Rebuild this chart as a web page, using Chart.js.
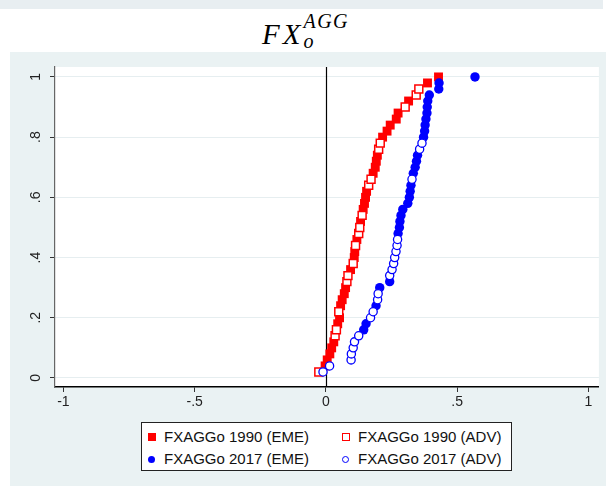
<!DOCTYPE html>
<html>
<head>
<meta charset="utf-8">
<script src="https://cdn.jsdelivr.net/npm/chart.js@4.4.0/dist/chart.umd.min.js"></script>
<style>
  body { margin: 0; width: 606px; height: 486px; background: #fff; position: relative; overflow: hidden; }
  #band { position: absolute; left: 0; top: 0; width: 603px; height: 9px; background: #e8eef1; }
  #title { position: absolute; left: 262px; top: 15px; font-family: "Liberation Serif", serif; font-style: italic; font-size: 29px; color: #000; letter-spacing: 3px; white-space: nowrap; }
  #title .scr { position: relative; display: inline-block; width: 56px; height: 29px; letter-spacing: 1.5px; }
  #title .sup { position: absolute; left: 0; top: -5px; font-size: 20px; }
  #title .sub { position: absolute; left: 0; top: 15px; font-size: 20px; }
  #wrap { position: absolute; left: 10px; top: 52px; width: 596px; height: 434px; background: #eaf2f3; }
  #legend { position: absolute; left: 141px; top: 422px; width: 371px; height: 49px; background: #fff; border: 1px solid #222; box-sizing: border-box; font-family: "Liberation Sans", Arial, sans-serif; font-size: 15px; color: #111; }
  .item { position: absolute; white-space: nowrap; line-height: 18px; }
  .mk { position: absolute; top: 5px; }
</style>
</head>
<body>
<div id="band"></div>
<div id="title">FX<span class="scr"><span class="sup">AGG</span><span class="sub">o</span></span></div>
<div id="wrap"><canvas id="cdf" width="596" height="434"></canvas></div>
<div id="legend"></div>
<script>
// CDF points (x = FXAGGo, y = cumulative share)
const emeX1990 = [-0.003, 0.005, 0.015, 0.022, 0.03, 0.045, 0.052, 0.056, 0.062, 0.07, 0.075, 0.094, 0.108, 0.11, 0.118, 0.132, 0.142, 0.147, 0.151, 0.155, 0.18, 0.188, 0.192, 0.196, 0.216, 0.233, 0.245, 0.268, 0.275, 0.315, 0.387, 0.429];
const emeY1990 = [0.04, 0.06, 0.08, 0.10, 0.12, 0.18, 0.20, 0.24, 0.26, 0.28, 0.30, 0.36, 0.40, 0.42, 0.46, 0.52, 0.56, 0.58, 0.60, 0.62, 0.68, 0.70, 0.72, 0.74, 0.80, 0.82, 0.84, 0.86, 0.88, 0.92, 0.98, 1.00];

const advX1990 = [-0.027, 0.035, 0.04, 0.049, 0.08, 0.084, 0.104, 0.113, 0.125, 0.129, 0.138, 0.163, 0.172, 0.201, 0.207, 0.302, 0.344, 0.354];
const advY1990 = [0.02, 0.14, 0.16, 0.22, 0.32, 0.34, 0.38, 0.44, 0.48, 0.50, 0.54, 0.64, 0.66, 0.76, 0.78, 0.90, 0.94, 0.96];

const emeX2017 = [0.144, 0.153, 0.191, 0.205, 0.243, 0.275, 0.28, 0.282, 0.286, 0.293, 0.312, 0.318, 0.321, 0.324, 0.333, 0.34, 0.345, 0.349, 0.372, 0.376, 0.378, 0.381, 0.385, 0.386, 0.388, 0.394, 0.43, 0.431, 0.568];
const emeY2017 = [0.16, 0.18, 0.24, 0.30, 0.32, 0.48, 0.50, 0.52, 0.54, 0.56, 0.58, 0.60, 0.62, 0.64, 0.68, 0.70, 0.72, 0.74, 0.80, 0.82, 0.84, 0.86, 0.88, 0.90, 0.92, 0.94, 0.96, 0.98, 1.00];

const advX2017 = [-0.011, 0.014, 0.096, 0.097, 0.104, 0.109, 0.125, 0.17, 0.18, 0.197, 0.199, 0.243, 0.252, 0.258, 0.262, 0.267, 0.271, 0.273, 0.328, 0.357, 0.366];
const advY2017 = [0.02, 0.04, 0.06, 0.08, 0.10, 0.12, 0.14, 0.20, 0.22, 0.26, 0.28, 0.34, 0.36, 0.38, 0.40, 0.42, 0.44, 0.46, 0.66, 0.76, 0.78];

const seriesNames = ["FXAGGo 1990 (EME)", "FXAGGo 1990 (ADV)", "FXAGGo 2017 (EME)", "FXAGGo 2017 (ADV)"];

const xTickVals = [-1, -0.5, 0, 0.5, 1];
const xTickLabels = ["-1", "-.5", "0", ".5", "1"];
const yTickVals = [0, 0.2, 0.4, 0.6, 0.8, 1];
const yTickLabels = ["0", ".2", ".4", ".6", ".8", "1"];

function toPoints(xs, ys) {
  return xs.map((x, i) => ({ x: x, y: ys[i] }));
}

// white plot region, zero line behind the markers, rotated y labels (Stata style)
const plotBack = {
  id: "plotBack",
  beforeDraw(chart) {
    const a = chart.chartArea;
    const ctx = chart.ctx;
    ctx.save();
    ctx.fillStyle = "#fff";
    ctx.fillRect(a.left, a.top, a.right - a.left, a.bottom - a.top);
    ctx.restore();
  },
  beforeDatasetsDraw(chart) {
    const ctx = chart.ctx;
    const px = Math.round(chart.scales.x.getPixelForValue(0)) + 0.5;
    ctx.save();
    ctx.strokeStyle = "#000";
    ctx.lineWidth = 1.2;
    ctx.beginPath();
    ctx.moveTo(px, chart.chartArea.top);
    ctx.lineTo(px, chart.chartArea.bottom);
    ctx.stroke();
    ctx.restore();
  },
  afterDraw(chart) {
    const ctx = chart.ctx;
    const ys = chart.scales.y;
    ctx.save();
    ctx.fillStyle = "#222";
    ctx.font = "14px 'Liberation Sans'";
    ctx.textAlign = "center";
    ctx.textBaseline = "middle";
    yTickVals.forEach((v, i) => {
      ctx.save();
      ctx.translate(ys.left + 26, ys.getPixelForValue(v));
      ctx.rotate(-Math.PI / 2);
      ctx.fillText(yTickLabels[i], 0, 0);
      ctx.restore();
    });
    ctx.restore();
  }
};

const tickFont = { family: "Liberation Sans", size: 14 };

new Chart(document.getElementById("cdf").getContext("2d"), {
  type: "scatter",
  data: {
    datasets: [
      { label: seriesNames[0], data: toPoints(emeX1990, emeY1990), order: 4,
        pointStyle: "rect", pointRadius: 6.3, backgroundColor: "#ff0000", borderWidth: 0 },
      { label: seriesNames[1], data: toPoints(advX1990, advY1990), order: 3,
        pointStyle: "rect", pointRadius: 5.6, backgroundColor: "#fff", borderColor: "#ff0000", borderWidth: 1.5 },
      { label: seriesNames[2], data: toPoints(emeX2017, emeY2017), order: 2,
        pointStyle: "circle", pointRadius: 4.7, backgroundColor: "#0000ff", borderWidth: 0 },
      { label: seriesNames[3], data: toPoints(advX2017, advY2017), order: 1,
        pointStyle: "circle", pointRadius: 4.1, backgroundColor: "#fff", borderColor: "#0000ff", borderWidth: 1.3 }
    ]
  },
  options: {
    responsive: false,
    animation: false,
    devicePixelRatio: 1,
    events: [],
    layout: { padding: { top: 15, right: 5, left: 0, bottom: 0 } },
    plugins: { legend: { display: false }, tooltip: { enabled: false } },
    scales: {
      x: {
        type: "linear", min: -1.032, max: 1.04,
        afterBuildTicks: s => { s.ticks = xTickVals.map(v => ({ value: v })); },
        afterFit: s => { s.height = 99; },
        ticks: { font: tickFont, color: "#222", padding: 2, maxRotation: 0,
          callback: (v) => xTickLabels[xTickVals.indexOf(v)] },
        grid: { drawOnChartArea: false, tickLength: 5, tickColor: "#333", tickWidth: 1 },
        border: { color: "#000", width: 1.5 }
      },
      y: {
        type: "linear", min: -0.03, max: 1.033,
        afterBuildTicks: s => { s.ticks = yTickVals.map(v => ({ value: v })); },
        afterFit: s => { s.width = 45; },
        ticks: { display: false },
        grid: { color: "#e6eef0", lineWidth: 1, drawTicks: true, tickLength: 5, tickColor: "#333" },
        border: { color: "#666", width: 1.2 }
      }
    }
  },
  plugins: [plotBack]
});

// legend box, two columns like the original
const legendMarks = [
  '<span class="mk" style="left:0;width:8px;height:8px;background:#f00"></span>',
  '<span class="mk" style="left:0;width:6px;height:6px;border:1.2px solid #f00;top:5px"></span>',
  '<span class="mk" style="left:0;width:7px;height:7px;border-radius:50%;background:#00f;top:6px"></span>',
  '<span class="mk" style="left:0;width:5px;height:5px;border-radius:50%;border:1.2px solid #00f;top:6px"></span>'
];
const legendPos = [[6, 5], [200, 5], [6, 27], [200, 27]];
const legend = document.getElementById("legend");
seriesNames.forEach((name, i) => {
  const d = document.createElement("div");
  d.className = "item";
  d.style.left = legendPos[i][0] + "px";
  d.style.top = legendPos[i][1] + "px";
  d.innerHTML = legendMarks[i] + '<span style="margin-left:16px">' + name + "</span>";
  legend.appendChild(d);
});
</script>
</body>
</html>
